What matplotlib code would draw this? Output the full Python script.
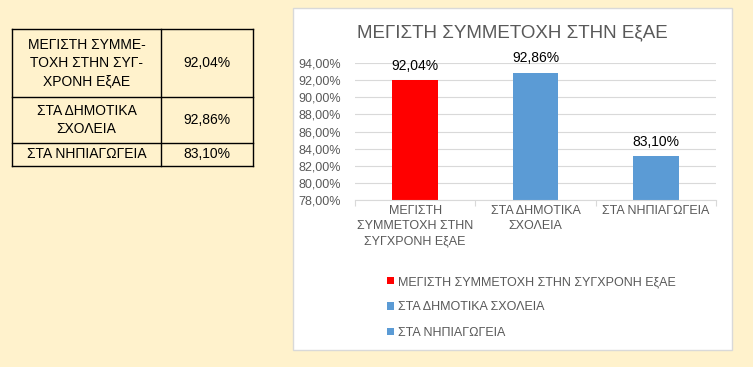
import matplotlib.pyplot as plt
from matplotlib.patches import Rectangle, Patch
from matplotlib.ticker import FuncFormatter

plt.rcParams['font.family'] = ['Liberation Sans', 'DejaVu Sans']

# data
categories = ["ΜΕΓΙΣΤΗ\nΣΥΜΜΕΤΟΧΗ ΣΤΗΝ\nΣΥΓΧΡΟΝΗ ΕξΑΕ", "ΣΤΑ ΔΗΜΟΤΙΚΑ\nΣΧΟΛΕΙΑ", "ΣΤΑ ΝΗΠΙΑΓΩΓΕΙΑ"]
legend_labels = ["ΜΕΓΙΣΤΗ ΣΥΜΜΕΤΟΧΗ ΣΤΗΝ ΣΥΓΧΡΟΝΗ ΕξΑΕ", "ΣΤΑ ΔΗΜΟΤΙΚΑ ΣΧΟΛΕΙΑ", "ΣΤΑ ΝΗΠΙΑΓΩΓΕΙΑ"]
table_labels = ["ΜΕΓΙΣΤΗ ΣΥΜΜΕ-\nΤΟΧΗ ΣΤΗΝ ΣΥΓ-\nΧΡΟΝΗ ΕξΑΕ", "ΣΤΑ ΔΗΜΟΤΙΚΑ\nΣΧΟΛΕΙΑ", "ΣΤΑ ΝΗΠΙΑΓΩΓΕΙΑ"]
values = [92.04, 92.86, 83.10]
colors = ["#FF0000", "#5B9BD5", "#5B9BD5"]
title = "ΜΕΓΙΣΤΗ ΣΥΜΜΕΤΟΧΗ ΣΤΗΝ ΕξΑΕ"


def pct(v):
    return f"{v:.2f}%".replace(".", ",")


W, H = 753, 367
fig = plt.figure(figsize=(W / 100, H / 100), dpi=100, facecolor="#FFF2CC")

# background layer in pixel coords (table + chart panel)
bg = fig.add_axes([0, 0, 1, 1], zorder=0)
bg.set_xlim(0, W)
bg.set_ylim(H, 0)
bg.axis("off")

bg.add_patch(Rectangle((293, 8), 439, 342, facecolor="white", edgecolor="#D9D9D9", lw=1))

# table
tx0, tx1, tx2 = 12, 161, 253
row_edges = [29, 97, 143, 166]
for y in row_edges:
    bg.plot([tx0, tx2], [y, y], color="black", lw=1)
for x in (tx0, tx1, tx2):
    bg.plot([x, x], [row_edges[0], row_edges[-1]], color="black", lw=1)
for i, (lab, v) in enumerate(zip(table_labels, values)):
    yc = (row_edges[i] + row_edges[i + 1]) / 2
    bg.text((tx0 + tx1) / 2, yc, lab, ha="center", va="center", fontsize=10,
            linespacing=1.4, color="black")
    bg.text((tx1 + tx2) / 2, yc, pct(v), ha="center", va="center", fontsize=10, color="black")

# chart
ax = fig.add_axes([355 / W, 1 - 200 / H, 361 / W, 137 / H], zorder=1)
ax.set_facecolor("none")
x = list(range(len(values)))
bars = ax.bar(x, values, width=0.38, color=colors, bottom=0)
ax.set_ylim(78, 94)
ax.set_xlim(-0.5, 2.5)
ax.set_yticks(range(78, 95, 2))
ax.yaxis.set_major_formatter(FuncFormatter(lambda v, p: pct(v)))
ax.grid(axis="y", color="#D9D9D9", lw=0.8)
ax.set_axisbelow(True)
for s in ("top", "right", "left"):
    ax.spines[s].set_visible(False)
ax.spines["bottom"].set_color("#D9D9D9")
ax.tick_params(axis="y", length=0, labelsize=9, labelcolor="#595959", pad=10)
ax.set_xticks([-0.5, 0.5, 1.5, 2.5])
ax.set_xticklabels([])
ax.tick_params(axis="x", length=4, color="#D9D9D9")
for xi, lab in zip(x, categories):
    ax.text(xi, 77.4, lab, ha="center", va="top", fontsize=9, color="#595959",
            linespacing=1.35)
for b, v in zip(bars, values):
    ax.text(b.get_x() + b.get_width() / 2, v + 0.85, pct(v), ha="center", va="bottom",
            fontsize=10, color="black", clip_on=False)

fig.text(512 / W, 1 - 33 / H, title, ha="center", va="center", fontsize=13.5, color="#595959")

handles = [Patch(facecolor=c) for c in colors]
fig.legend(handles, legend_labels, loc="upper left", bbox_to_anchor=(381 / W, 1 - 270 / H),
           frameon=False, fontsize=9, labelcolor="#595959", handlelength=0.5,
           handleheight=0.5, handletextpad=0.4, labelspacing=1.05, borderpad=0)

fig.savefig("out.png", dpi=100, facecolor=fig.get_facecolor())
